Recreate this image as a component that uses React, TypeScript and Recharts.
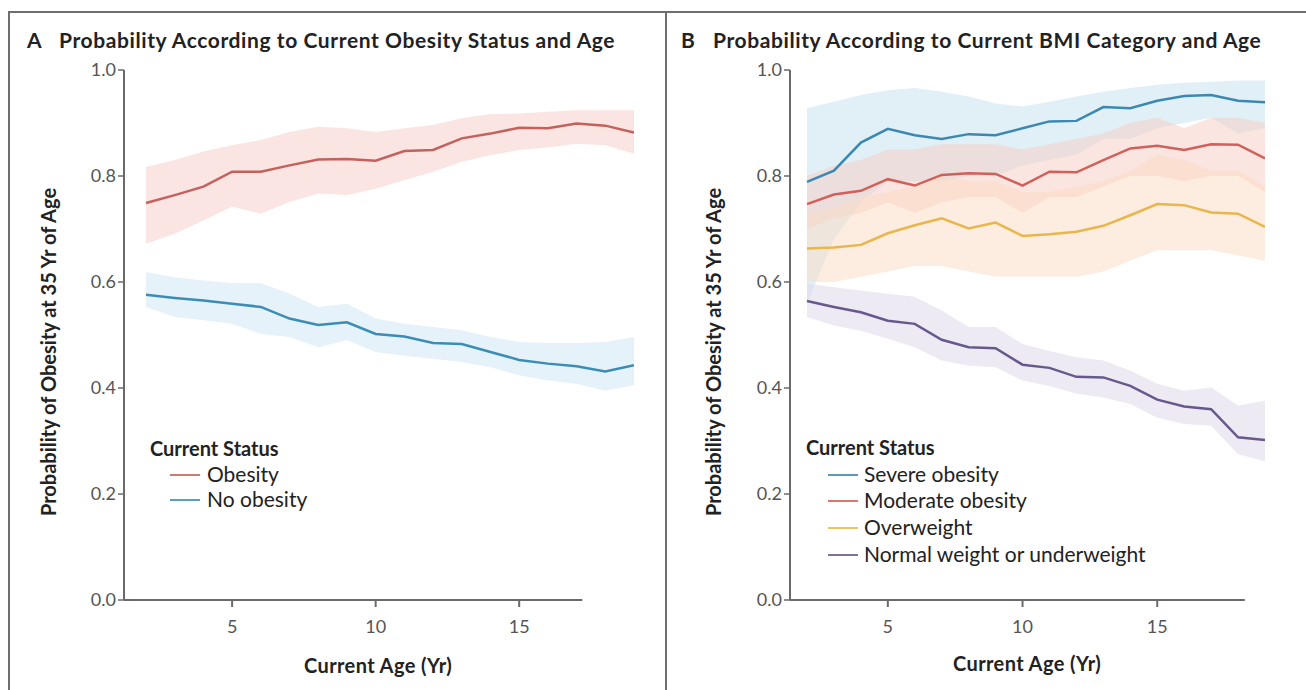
import React from 'react';
import { ComposedChart, Area, Line, XAxis, YAxis, ReferenceLine } from 'recharts';

const ages = [2, 3, 4, 5, 6, 7, 8, 9, 10, 11, 12, 13, 14, 15, 16, 17, 18, 19];
const xTicks = [5, 10, 15];
const yTicks = [0, 0.2, 0.4, 0.6, 0.8, 1.0];

// Panel A
const obesityMean = [0.749, 0.764, 0.78, 0.808, 0.808, 0.82, 0.831, 0.832, 0.829, 0.847, 0.849, 0.871, 0.88, 0.891, 0.89, 0.899, 0.895, 0.882];
const obesityLow = [0.672, 0.691, 0.716, 0.742, 0.729, 0.751, 0.767, 0.764, 0.776, 0.792, 0.808, 0.827, 0.839, 0.849, 0.854, 0.861, 0.858, 0.842];
const obesityHigh = [0.817, 0.83, 0.846, 0.858, 0.868, 0.883, 0.893, 0.89, 0.883, 0.89, 0.896, 0.909, 0.917, 0.918, 0.921, 0.924, 0.924, 0.924];
const noObesityMean = [0.576, 0.57, 0.565, 0.559, 0.553, 0.531, 0.519, 0.524, 0.502, 0.497, 0.485, 0.483, 0.468, 0.453, 0.446, 0.441, 0.431, 0.443];
const noObesityLow = [0.553, 0.534, 0.528, 0.521, 0.502, 0.496, 0.477, 0.49, 0.468, 0.461, 0.455, 0.449, 0.439, 0.424, 0.414, 0.408, 0.395, 0.405];
const noObesityHigh = [0.619, 0.609, 0.603, 0.598, 0.598, 0.578, 0.553, 0.559, 0.531, 0.521, 0.515, 0.509, 0.496, 0.487, 0.485, 0.485, 0.487, 0.496];

// Panel B
const severeMean = [0.789, 0.81, 0.863, 0.889, 0.877, 0.87, 0.879, 0.877, 0.89, 0.903, 0.904, 0.93, 0.928, 0.942, 0.951, 0.953, 0.942, 0.939];
const severeLow = [0.56, 0.68, 0.75, 0.79, 0.79, 0.79, 0.8, 0.8, 0.82, 0.83, 0.84, 0.87, 0.87, 0.89, 0.9, 0.91, 0.88, 0.89];
const severeHigh = [0.928, 0.94, 0.953, 0.962, 0.966, 0.959, 0.95, 0.937, 0.931, 0.94, 0.95, 0.959, 0.966, 0.972, 0.976, 0.978, 0.98, 0.98];
const moderateMean = [0.747, 0.765, 0.772, 0.794, 0.782, 0.802, 0.805, 0.804, 0.782, 0.808, 0.807, 0.83, 0.852, 0.857, 0.849, 0.86, 0.859, 0.833];
const moderateLow = [0.7, 0.72, 0.73, 0.75, 0.73, 0.75, 0.76, 0.76, 0.73, 0.76, 0.76, 0.78, 0.8, 0.8, 0.79, 0.8, 0.8, 0.77];
const moderateHigh = [0.8, 0.82, 0.83, 0.85, 0.85, 0.86, 0.86, 0.86, 0.85, 0.86, 0.87, 0.88, 0.9, 0.91, 0.89, 0.91, 0.91, 0.9];
const overweightMean = [0.663, 0.665, 0.67, 0.692, 0.707, 0.72, 0.701, 0.712, 0.687, 0.69, 0.695, 0.706, 0.726, 0.747, 0.745, 0.731, 0.729, 0.704];
const overweightLow = [0.6, 0.6, 0.61, 0.62, 0.63, 0.63, 0.62, 0.61, 0.61, 0.61, 0.61, 0.62, 0.64, 0.66, 0.66, 0.66, 0.65, 0.64];
const overweightHigh = [0.73, 0.74, 0.76, 0.77, 0.78, 0.8, 0.79, 0.79, 0.77, 0.77, 0.78, 0.79, 0.81, 0.84, 0.83, 0.81, 0.81, 0.78];
const normalMean = [0.564, 0.553, 0.543, 0.527, 0.521, 0.491, 0.477, 0.475, 0.444, 0.438, 0.421, 0.42, 0.404, 0.378, 0.365, 0.36, 0.307, 0.302];
const normalLow = [0.534, 0.518, 0.508, 0.493, 0.477, 0.452, 0.442, 0.439, 0.414, 0.404, 0.389, 0.382, 0.37, 0.344, 0.332, 0.329, 0.275, 0.262];
const normalHigh = [0.597, 0.59, 0.584, 0.578, 0.572, 0.546, 0.515, 0.515, 0.483, 0.47, 0.458, 0.452, 0.433, 0.408, 0.395, 0.401, 0.367, 0.376];

const titleA = 'Probability According to Current Obesity Status and Age';
const titleB = 'Probability According to Current BMI Category and Age';
const yLabel = 'Probability of Obesity at 35 Yr of Age';
const xLabel = 'Current Age (Yr)';
const legendTitle = 'Current Status';
const legendA = ['Obesity', 'No obesity'];
const legendB = ['Severe obesity', 'Moderate obesity', 'Overweight', 'Normal weight or underweight'];

const dataA = ages.map((age, i) => ({
  age,
  ob: obesityMean[i],
  obBand: [obesityLow[i], obesityHigh[i]],
  no: noObesityMean[i],
  noBand: [noObesityLow[i], noObesityHigh[i]],
}));

const dataB = ages.map((age, i) => ({
  age,
  sev: severeMean[i],
  sevBand: [severeLow[i], severeHigh[i]],
  mod: moderateMean[i],
  modBand: [moderateLow[i], moderateHigh[i]],
  ow: overweightMean[i],
  owBand: [overweightLow[i], overweightHigh[i]],
  nw: normalMean[i],
  nwBand: [normalLow[i], normalHigh[i]],
}));

const FONT = 'Lato, "Open Sans", sans-serif';
const AXIS = '#6a6a6a';
const TICK_TEXT = { fill: '#555', fontSize: 18, fontFamily: FONT };

const C = {
  aRed: '#c4615c', aRedBand: '#f8d3d0',
  aBlue: '#3b8db6', aBlueBand: '#d3e9f5',
  sev: '#3c88b0', sevBand: '#c9e3f1',
  mod: '#d2605a', modBand: '#f5cbc4',
  ow: '#e9b64c', owBand: '#fcdcc4',
  nw: '#67598c', nwBand: '#dfd8eb',
};

const fmt = (v: number) => v.toFixed(1);

function Txt({ x, y, children, bold, size = 17, anchor = 'left', rotate = false, color = '#222', spacing = 0 }: any) {
  const style: React.CSSProperties = {
    position: 'absolute',
    left: x,
    top: y,
    fontFamily: FONT,
    fontWeight: bold ? 700 : 400,
    fontSize: size,
    letterSpacing: spacing,
    color,
    whiteSpace: 'nowrap',
    lineHeight: 1,
    transform: rotate
      ? 'translate(-50%, -50%) rotate(-90deg)'
      : anchor === 'center'
      ? 'translate(-50%, -50%)'
      : 'translate(0, -50%)',
  };
  return <div style={style}>{children}</div>;
}

function Swatch({ x, y, color }: any) {
  return <div style={{ position: 'absolute', left: x, top: y - 1.25, width: 30, height: 2.5, background: color, opacity: 0.85 }} />;
}

export default function App() {
  return (
    <div style={{ position: 'absolute', left: 0, top: 0, width: 1306, height: 690, background: '#fff', overflow: 'hidden' }}>
      {/* frame */}
      <div style={{ position: 'absolute', left: 8, top: 11, width: 1298, height: 2, background: '#6e6e6e' }} />
      <div style={{ position: 'absolute', left: 8, top: 11, width: 2, height: 679, background: '#6e6e6e' }} />
      <div style={{ position: 'absolute', left: 665, top: 11, width: 2, height: 679, background: '#6e6e6e' }} />

      {/* Panel A chart */}
      <div style={{ position: 'absolute', left: 0, top: 0 }}>
        <ComposedChart width={665} height={690} data={dataA} margin={{ top: 70, right: 31, bottom: 60, left: 64 }}>
          <XAxis
            type="number"
            dataKey="age"
            domain={[1.234, 19]}
            ticks={xTicks}
            allowDataOverflow
            axisLine={false}
            tickLine={{ stroke: AXIS, strokeWidth: 2 }}
            tickSize={7}
            tickMargin={13}
            height={30}
            tick={TICK_TEXT}
          />
          <YAxis
            type="number"
            domain={[0, 1]}
            ticks={yTicks}
            tickFormatter={fmt}
            width={60}
            axisLine={{ stroke: AXIS, strokeWidth: 2 }}
            tickLine={{ stroke: AXIS, strokeWidth: 1.5 }}
            tickSize={6}
            tickMargin={2}
            tick={TICK_TEXT}
          />
          <Area dataKey="obBand" type="linear" stroke="none" fill={C.aRedBand} fillOpacity={0.6} isAnimationActive={false} />
          <Area dataKey="noBand" type="linear" stroke="none" fill={C.aBlueBand} fillOpacity={0.6} isAnimationActive={false} />
          <Line dataKey="ob" type="linear" stroke={C.aRed} strokeWidth={2.5} dot={false} isAnimationActive={false} />
          <Line dataKey="no" type="linear" stroke={C.aBlue} strokeWidth={2.5} dot={false} isAnimationActive={false} />
          <ReferenceLine segment={[{ x: 1.234, y: 0 }, { x: 17.2, y: 0 }]} stroke={AXIS} strokeWidth={2} ifOverflow="visible" />
        </ComposedChart>
      </div>

      {/* Panel B chart */}
      <div style={{ position: 'absolute', left: 665, top: 0 }}>
        <ComposedChart width={641} height={690} data={dataB} margin={{ top: 70, right: 41, bottom: 60, left: 65 }}>
          <XAxis
            type="number"
            dataKey="age"
            domain={[1.369, 19]}
            ticks={xTicks}
            allowDataOverflow
            axisLine={false}
            tickLine={{ stroke: AXIS, strokeWidth: 2 }}
            tickSize={7}
            tickMargin={13}
            height={30}
            tick={TICK_TEXT}
          />
          <YAxis
            type="number"
            domain={[0, 1]}
            ticks={yTicks}
            tickFormatter={fmt}
            width={60}
            axisLine={{ stroke: AXIS, strokeWidth: 2 }}
            tickLine={{ stroke: AXIS, strokeWidth: 1.5 }}
            tickSize={6}
            tickMargin={2}
            tick={TICK_TEXT}
          />
          <Area dataKey="sevBand" type="linear" stroke="none" fill={C.sevBand} fillOpacity={0.55} isAnimationActive={false} />
          <Area dataKey="modBand" type="linear" stroke="none" fill={C.modBand} fillOpacity={0.5} isAnimationActive={false} />
          <Area dataKey="owBand" type="linear" stroke="none" fill={C.owBand} fillOpacity={0.5} isAnimationActive={false} />
          <Area dataKey="nwBand" type="linear" stroke="none" fill={C.nwBand} fillOpacity={0.55} isAnimationActive={false} />
          <Line dataKey="sev" type="linear" stroke={C.sev} strokeWidth={2.5} dot={false} isAnimationActive={false} />
          <Line dataKey="mod" type="linear" stroke={C.mod} strokeWidth={2.5} dot={false} isAnimationActive={false} />
          <Line dataKey="ow" type="linear" stroke={C.ow} strokeWidth={2.5} dot={false} isAnimationActive={false} />
          <Line dataKey="nw" type="linear" stroke={C.nw} strokeWidth={2.5} dot={false} isAnimationActive={false} />
          <ReferenceLine segment={[{ x: 1.369, y: 0 }, { x: 18.25, y: 0 }]} stroke={AXIS} strokeWidth={2} ifOverflow="visible" />
        </ComposedChart>
      </div>

      {/* Titles */}
      <Txt x={27} y={39} bold size={21}>A</Txt>
      <Txt x={59} y={39} bold size={21} spacing={0.6}>{titleA}</Txt>
      <Txt x={681} y={39} bold size={21}>B</Txt>
      <Txt x={713} y={39} bold size={21} spacing={0.6}>{titleB}</Txt>

      {/* Axis labels */}
      <Txt x={48} y={352} bold size={20} rotate>{yLabel}</Txt>
      <Txt x={713} y={352} bold size={20} rotate>{yLabel}</Txt>
      <Txt x={378} y={665} bold size={20} spacing={0.4} anchor="center">{xLabel}</Txt>
      <Txt x={1027} y={663} bold size={20} spacing={0.4} anchor="center">{xLabel}</Txt>

      {/* Legend A */}
      <Txt x={150} y={448} bold size={20}>{legendTitle}</Txt>
      <Swatch x={170} y={475} color={C.aRed} />
      <Txt x={207} y={473} size={21}>{legendA[0]}</Txt>
      <Swatch x={170} y={500} color={C.aBlue} />
      <Txt x={207} y={498} size={21}>{legendA[1]}</Txt>

      {/* Legend B */}
      <Txt x={806} y={447} bold size={20}>{legendTitle}</Txt>
      <Swatch x={828} y={475} color={C.sev} />
      <Txt x={864} y={473} size={21}>{legendB[0]}</Txt>
      <Swatch x={828} y={501} color={C.mod} />
      <Txt x={864} y={499} size={21}>{legendB[1]}</Txt>
      <Swatch x={828} y={528} color={C.ow} />
      <Txt x={864} y={526} size={21}>{legendB[2]}</Txt>
      <Swatch x={828} y={555} color={C.nw} />
      <Txt x={864} y={553} size={21}>{legendB[3]}</Txt>
    </div>
  );
}
